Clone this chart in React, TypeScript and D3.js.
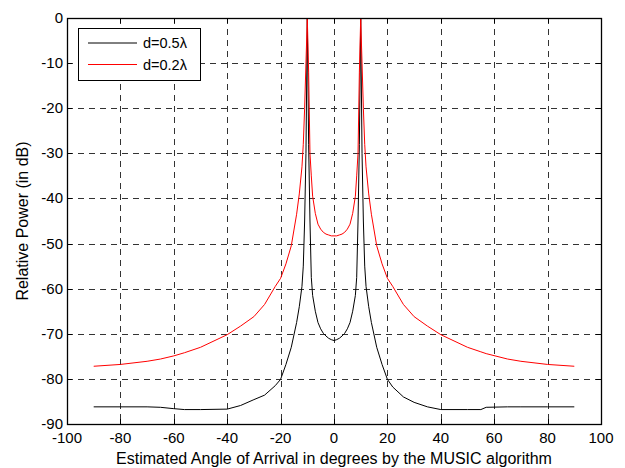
import React, { useEffect, useRef } from 'react';
import * as d3 from 'd3';

// angle samples (degrees) shared by both curves
const angles = [
  -90, -80, -70, -65, -60, -56, -50, -40, -35, -30, -26, -22, -20, -18, -16, -14, -13, -12, -11.5, -11, -10.5, -10,
  -9.5, -9, -8.5, -8, -7, -6, -5, -4, -3, -2, -1, 0,
  1, 2, 3, 4, 5, 6, 7, 8, 8.5, 9, 9.5, 10,
  10.5, 11, 11.5, 12, 13, 14, 16, 18, 20, 22, 26, 30, 35, 40, 50, 55, 57, 65, 70, 80, 90,
];

// d = 0.5 lambda
const powerHalf = [
  -86.2, -86.2, -86.2, -86.3, -86.6, -86.8, -86.8, -86.7, -85.9, -84.6, -83.6, -81.5, -80.1, -76.8, -73.0, -67.5, -64.0, -59.5, -55.0, -45.0, -30.0, 0,
  -28.0, -45.0, -57.5, -61.5, -65.0, -67.5, -68.9, -69.9, -70.5, -71.0, -71.3, -71.5,
  -71.3, -71.0, -70.5, -69.9, -68.9, -67.5, -65.0, -61.5, -57.5, -45.0, -28.0, 0,
  -30.0, -45.0, -55.0, -59.5, -64.0, -67.5, -73.0, -76.8, -80.1, -81.8, -84.0, -85.2, -86.2, -86.8, -86.8, -86.8, -86.3, -86.2, -86.2, -86.2, -86.2,
];

// d = 0.2 lambda
const powerFifth = [
  -77.2, -76.8, -76.1, -75.6, -74.9, -74.2, -73.0, -70.2, -68.3, -66.2, -63.5, -59.5, -57.7, -54.5, -50.5, -43.5, -39.0, -33.0, -28.0, -20.0, -10.0, 0,
  -12.0, -30.0, -35.0, -39.5, -43.3, -45.7, -46.8, -47.5, -47.9, -48.1, -48.3, -48.3,
  -48.3, -48.1, -47.9, -47.5, -46.8, -45.7, -43.3, -39.5, -35.0, -30.0, -12.0, 0,
  -10.0, -20.0, -28.0, -33.0, -39.0, -43.5, -50.5, -54.5, -57.7, -59.5, -63.5, -66.2, -68.3, -70.2, -73.0, -74.0, -74.4, -75.6, -76.1, -76.8, -77.2,
];

const xTicks = [-100, -80, -60, -40, -20, 0, 20, 40, 60, 80, 100];
const yTicks = [0, -10, -20, -30, -40, -50, -60, -70, -80, -90];

const series = [
  { label: 'd=0.5λ', values: powerHalf, color: '#000000' },
  { label: 'd=0.2λ', values: powerFifth, color: '#ff0000' },
];

export default function App() {
  const ref = useRef<SVGSVGElement>(null);

  useEffect(() => {
    const width = 625;
    const height = 468;
    const left = 67, right = 601, top = 18, bottom = 424;
    const font = 'Arial, "Liberation Sans", Helvetica, sans-serif';

    const svg = d3.select(ref.current);
    svg.selectAll('*').remove();
    svg.attr('width', width).attr('height', height);

    svg.append('rect').attr('width', width).attr('height', height).attr('fill', '#fff');

    const x = d3.scaleLinear().domain([-100, 100]).range([left, right]);
    const y = d3.scaleLinear().domain([-90, 0]).range([bottom, top]);

    // grid
    const grid = svg.append('g')
      .attr('stroke', '#333')
      .attr('stroke-width', 1)
      .attr('stroke-dasharray', '6,5')
      .attr('shape-rendering', 'crispEdges');
    grid.selectAll('.vg')
      .data(xTicks.slice(1, -1))
      .enter()
      .append('line')
      .attr('x1', d => Math.round(x(d)) + 0.5)
      .attr('x2', d => Math.round(x(d)) + 0.5)
      .attr('y1', top)
      .attr('y2', bottom);
    grid.selectAll('.hg')
      .data(yTicks.slice(1, -1))
      .enter()
      .append('line')
      .attr('y1', d => Math.round(y(d)) + 0.5)
      .attr('y2', d => Math.round(y(d)) + 0.5)
      .attr('x1', left)
      .attr('x2', right);

    // curves
    svg.append('clipPath').attr('id', 'plotclip')
      .append('rect')
      .attr('x', left).attr('y', top)
      .attr('width', right - left).attr('height', bottom - top);

    const line = d3.line<number>()
      .x((_, i) => x(angles[i]))
      .y(d => y(d));

    series.forEach(s => {
      svg.append('path')
        .datum(s.values)
        .attr('clip-path', 'url(#plotclip)')
        .attr('fill', 'none')
        .attr('stroke', s.color)
        .attr('stroke-width', 1)
        .attr('d', line);
    });

    // ticks (inside, all four sides)
    const ticks = svg.append('g').attr('stroke', '#000').attr('stroke-width', 1).attr('shape-rendering', 'crispEdges');
    const tl = 5;
    xTicks.forEach(t => {
      const px = Math.round(x(t)) + 0.5;
      ticks.append('line').attr('x1', px).attr('x2', px).attr('y1', bottom).attr('y2', bottom - tl);
      ticks.append('line').attr('x1', px).attr('x2', px).attr('y1', top).attr('y2', top + tl);
    });
    yTicks.forEach(t => {
      const py = Math.round(y(t)) + 0.5;
      ticks.append('line').attr('y1', py).attr('y2', py).attr('x1', left).attr('x2', left + tl);
      ticks.append('line').attr('y1', py).attr('y2', py).attr('x1', right).attr('x2', right - tl);
    });

    // box
    svg.append('rect')
      .attr('x', left + 0.5).attr('y', top + 0.5)
      .attr('width', right - left).attr('height', bottom - top)
      .attr('fill', 'none').attr('stroke', '#000').attr('stroke-width', 1.3);

    // tick labels
    svg.append('g').selectAll('text')
      .data(xTicks)
      .enter()
      .append('text')
      .attr('x', d => x(d))
      .attr('y', bottom + 19)
      .attr('text-anchor', 'middle')
      .attr('font-family', font)
      .attr('font-size', 15)
      .text(d => String(d));

    svg.append('g').selectAll('text')
      .data(yTicks)
      .enter()
      .append('text')
      .attr('x', left - 4)
      .attr('y', d => y(d) + 5)
      .attr('text-anchor', 'end')
      .attr('font-family', font)
      .attr('font-size', 15)
      .text(d => String(d));

    // axis titles
    svg.append('text')
      .attr('x', (left + right) / 2)
      .attr('y', 464)
      .attr('text-anchor', 'middle')
      .attr('font-family', font)
      .attr('font-size', 16)
      .text('Estimated Angle of Arrival in degrees by the MUSIC algorithm');

    svg.append('text')
      .attr('transform', `translate(28, ${(top + bottom) / 2}) rotate(-90)`)
      .attr('text-anchor', 'middle')
      .attr('font-family', font)
      .attr('font-size', 16)
      .text('Relative Power (in dB)');

    // legend
    const lg = svg.append('g');
    lg.append('rect')
      .attr('x', 78.5).attr('y', 28.5)
      .attr('width', 122).attr('height', 52)
      .attr('fill', '#fff').attr('stroke', '#000').attr('stroke-width', 1);
    series.forEach((s, i) => {
      const ly = 43 + i * 21.5;
      lg.append('line')
        .attr('x1', 88).attr('x2', 137)
        .attr('y1', ly).attr('y2', ly)
        .attr('stroke', s.color).attr('stroke-width', 1);
      lg.append('text')
        .attr('x', 143).attr('y', ly + 5)
        .attr('font-family', font)
        .attr('font-size', 14.5)
        .text(s.label);
    });
  }, []);

  return <svg ref={ref} style={{ position: 'absolute', left: 0, top: 0, display: 'block' }} />;
}
